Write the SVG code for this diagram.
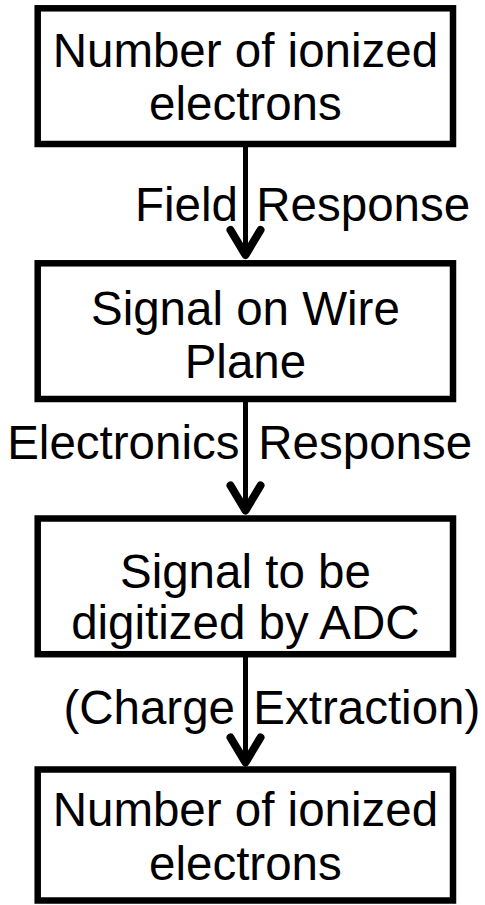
<svg xmlns="http://www.w3.org/2000/svg" width="485" height="905" viewBox="0 0 485 905">
  <style>
    .box { fill: #ffffff; stroke: #000000; stroke-width: 6.5; }
    .txt { font-family: "Liberation Sans", Arial, sans-serif; font-size: 47.5px; fill: #000000; }
    .mid { text-anchor: middle; }
    .end { text-anchor: end; }
    .link { stroke: #000000; stroke-width: 5; fill: none; }
  </style>
  <defs>
    <!-- open chevron arrowhead -->
    <marker id="chev" markerUnits="userSpaceOnUse" viewBox="-35 -25 45 50" markerWidth="45" markerHeight="50" refX="0" refY="0" orient="auto" overflow="visible">
      <path d="M -25,-15 L 0,0 L -25,15" fill="none" stroke="#000000" stroke-width="8" stroke-linecap="round" stroke-linejoin="round"/>
    </marker>
  </defs>
  <rect width="485" height="905" fill="#ffffff"/>

  <g id="connectors">
    <line class="link" x1="245.5" y1="144" x2="245.5" y2="255" marker-end="url(#chev)"/>
    <line class="link" x1="245.5" y1="399" x2="245.5" y2="510.5" marker-end="url(#chev)"/>
    <line class="link" x1="245.5" y1="654" x2="245.5" y2="762.5" marker-end="url(#chev)"/>
  </g>

  <g id="label-field">
    <text class="txt end" x="238" y="221">Field</text>
    <text class="txt" x="256.3" y="221">Response</text>
  </g>
  <g id="label-electronics">
    <text class="txt end" x="239.5" y="459">Electronics</text>
    <text class="txt" x="258.3" y="459">Response</text>
  </g>
  <g id="label-extraction">
    <text class="txt end" x="235" y="724">(Charge</text>
    <text class="txt" x="253.3" y="724">Extraction)</text>
  </g>

  <g id="node-ionized">
    <rect class="box" x="37.7" y="8.3" width="415.3" height="135.7"/>
    <text class="txt mid" x="245.4" y="67">Number of ionized</text>
    <text class="txt mid" x="245.4" y="120">electrons</text>
  </g>
  <g id="node-wire-signal">
    <rect class="box" x="37.7" y="263.3" width="415.3" height="135.7"/>
    <text class="txt mid" x="245.4" y="325">Signal on Wire</text>
    <text class="txt mid" x="245.4" y="378">Plane</text>
  </g>
  <g id="node-adc-signal">
    <rect class="box" x="37.7" y="518.5" width="415.3" height="135.7"/>
    <text class="txt mid" x="245.4" y="588">Signal to be</text>
    <text class="txt mid" x="245.4" y="639">digitized by ADC</text>
  </g>
  <g id="node-extracted">
    <rect class="box" x="37.7" y="769.5" width="415.3" height="131"/>
    <text class="txt mid" x="245.4" y="826">Number of ionized</text>
    <text class="txt mid" x="245.4" y="880">electrons</text>
  </g>
</svg>
